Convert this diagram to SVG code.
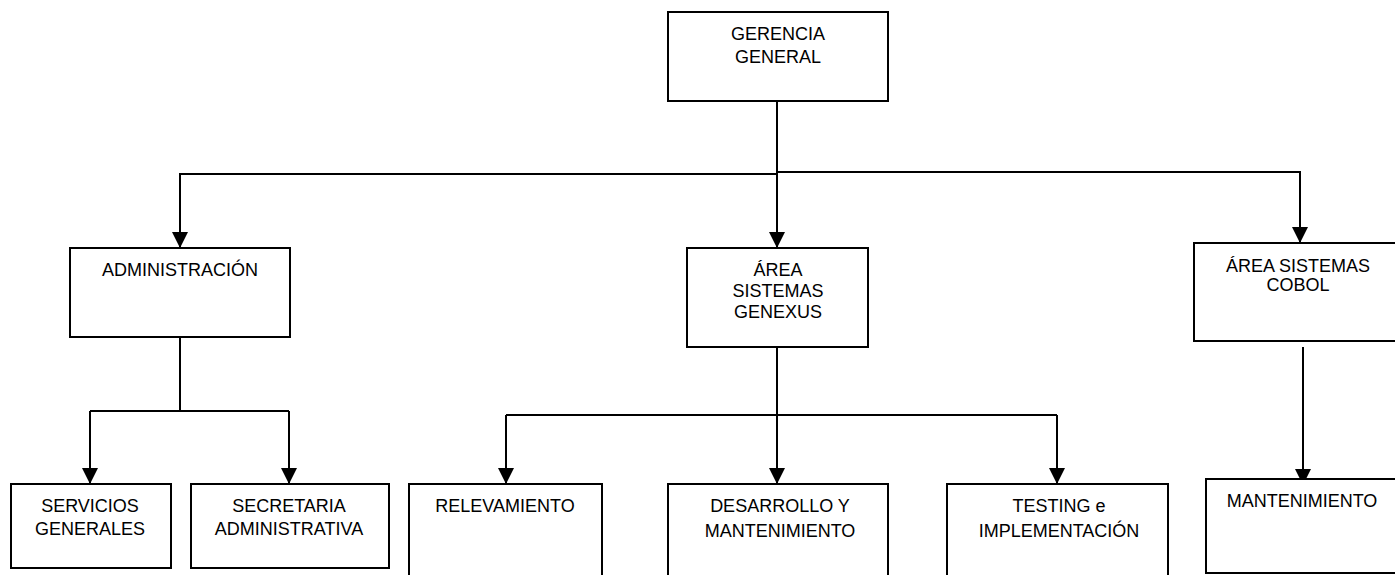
<svg xmlns="http://www.w3.org/2000/svg" width="1395" height="575" viewBox="0 0 1395 575">
  <style>
    .box { fill: #fff; stroke: #000; stroke-width: 2; }
    .lbl { font-family: "Liberation Sans", Arial, sans-serif; font-size: 18px; fill: #000; text-anchor: middle; }
    .wire { fill: none; stroke: #000; stroke-width: 2; }
  </style>
  <defs>
    <marker id="arrow" markerUnits="userSpaceOnUse" markerWidth="16" markerHeight="16" refX="16" refY="8" orient="auto">
      <path d="M0,0 L16,8 L0,16 Z" fill="#000"/>
    </marker>
  </defs>

  <rect width="1395" height="575" fill="#fff"/>

  <!-- connectors -->
  <g id="connectors">
    <path class="wire" d="M777,101 V248" marker-end="url(#arrow)"/>
    <path class="wire" d="M777,174 H180 V248" marker-end="url(#arrow)"/>
    <path class="wire" d="M777,172 H1300 V243" marker-end="url(#arrow)"/>
    <path class="wire" d="M180,337 V411"/>
    <path class="wire" d="M90,411 H289"/>
    <path class="wire" d="M90,411 V484" marker-end="url(#arrow)"/>
    <path class="wire" d="M289,411 V484" marker-end="url(#arrow)"/>
    <path class="wire" d="M777,347 V484" marker-end="url(#arrow)"/>
    <path class="wire" d="M506,415 H1057"/>
    <path class="wire" d="M506,415 V484" marker-end="url(#arrow)"/>
    <path class="wire" d="M1057,415 V484" marker-end="url(#arrow)"/>
    <path class="wire" d="M1303,347 V485" marker-end="url(#arrow)"/>
  </g>

  <g id="gerencia-general">
    <rect class="box" x="668" y="12" width="220" height="89"/>
    <text class="lbl" x="778" y="40">GERENCIA</text>
    <text class="lbl" x="778" y="63">GENERAL</text>
  </g>

  <g id="administracion">
    <rect class="box" x="70" y="248" width="220" height="89"/>
    <text class="lbl" x="180" y="276">ADMINISTRACIÓN</text>
  </g>

  <g id="area-genexus">
    <rect class="box" x="687" y="248" width="181" height="99"/>
    <text class="lbl" x="778" y="276">ÁREA</text>
    <text class="lbl" x="778" y="297">SISTEMAS</text>
    <text class="lbl" x="778" y="318">GENEXUS</text>
  </g>

  <g id="area-cobol">
    <rect class="box" x="1194" y="243" width="210" height="98"/>
    <text class="lbl" x="1298" y="272">ÁREA SISTEMAS</text>
    <text class="lbl" x="1298" y="291">COBOL</text>
  </g>

  <g id="servicios-generales">
    <rect class="box" x="11" y="484" width="160" height="84"/>
    <text class="lbl" x="90" y="512">SERVICIOS</text>
    <text class="lbl" x="90" y="535">GENERALES</text>
  </g>

  <g id="secretaria-administrativa">
    <rect class="box" x="191" y="484" width="198" height="84"/>
    <text class="lbl" x="289" y="512">SECRETARIA</text>
    <text class="lbl" x="289" y="535">ADMINISTRATIVA</text>
  </g>

  <g id="relevamiento">
    <rect class="box" x="409" y="484" width="193" height="100"/>
    <text class="lbl" x="505" y="512">RELEVAMIENTO</text>
  </g>

  <g id="desarrollo-mantenimiento">
    <rect class="box" x="668" y="484" width="220" height="100"/>
    <text class="lbl" x="780" y="512">DESARROLLO Y</text>
    <text class="lbl" x="780" y="537">MANTENIMIENTO</text>
  </g>

  <g id="testing-implementacion">
    <rect class="box" x="947" y="484" width="221" height="100"/>
    <text class="lbl" x="1059" y="512">TESTING e</text>
    <text class="lbl" x="1059" y="537">IMPLEMENTACIÓN</text>
  </g>

  <g id="mantenimiento">
    <rect class="box" x="1206" y="479" width="200" height="94"/>
    <text class="lbl" x="1302" y="507">MANTENIMIENTO</text>
  </g>
</svg>
